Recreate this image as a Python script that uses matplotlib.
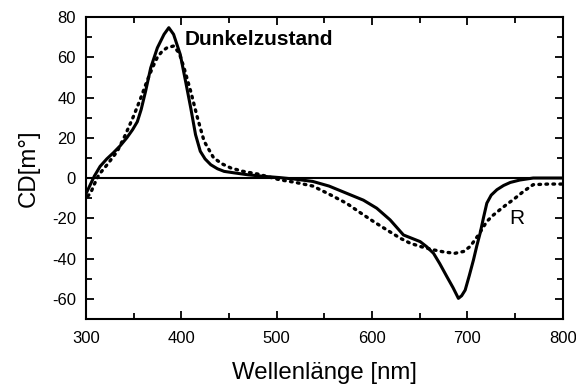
import numpy as np
import matplotlib
matplotlib.use('Agg')
import matplotlib.pyplot as plt
from matplotlib.ticker import MultipleLocator

plt.rcParams['font.family'] = ['Liberation Sans', 'DejaVu Sans']
plt.rcParams['axes.unicode_minus'] = False

# Dunkelzustand (durchgezogen)
wl_dunkel = [300, 303, 309, 315, 322, 329, 336, 343, 349, 354, 358, 362.6, 368, 375, 382,
             387, 392, 399, 404.6, 410, 415, 420, 425, 431, 438, 445, 455, 470, 485, 503.6,
             520, 538, 555, 573.5, 591, 605, 619, 633, 642, 650.5, 657, 664.5, 671, 678.5,
             685, 690.6, 694, 697.7, 702, 706.4, 710, 713.4, 717, 720.4, 725, 731, 738, 745,
             755, 769, 785, 800]
cd_dunkel = [-8, -5, 1, 5.8, 9.5, 12.6, 16, 20, 24, 28, 34, 43, 54.7, 64.7, 71.4,
             74.7, 71.4, 61.4, 48, 34.8, 21.6, 13.3, 9.5, 6.6, 4.6, 3.3, 2.6, 1.6, 0.9, 0.2,
             -0.6, -1.7, -4, -7.6, -11, -15, -20.8, -28.3, -30, -31.6, -34, -37.4, -42.5, -49,
             -54.5, -59.8, -58.5, -55.7, -48.5, -40.7, -33.5, -27.4, -19.5, -12.5, -8.5, -5.8, -3.7, -2.2,
             -1, 0, 0, 0]

# R (gepunktet)
wl_r = [302, 305, 309, 313.6, 323, 333, 341, 350, 357, 364, 370, 375, 380, 385, 392,
        398, 403, 410, 417, 424, 434, 443, 452, 465, 480, 503.6, 520, 538, 555, 573.5,
        587, 601.5, 619, 630, 640, 652, 664.5, 676, 687, 696, 703, 711.6, 720.4, 727,
        734, 741, 748, 759, 769, 785, 800]
cd_r = [-9, -7.5, -3, 1.6, 7, 13.3, 21, 30.7, 39, 48, 55, 60, 63, 64.7, 65.6,
        62, 54.7, 43, 30, 18.3, 10, 7, 5, 3.3, 2, -0.9, -2.2, -4, -8, -12.6,
        -17, -21.6, -26.8, -30, -32.4, -34.2, -35.7, -36.8, -37.4, -36.5, -34, -28.3, -21.6, -18.5,
        -15.8, -13.2, -10.8, -6.6, -3.3, -3, -3]

fig = plt.figure(figsize=(5.76, 3.87), dpi=100)
ax = fig.add_axes([0.149, 0.176, 0.828, 0.780])

ax.axhline(0, color='black', lw=1.5, zorder=1)
ax.plot(wl_dunkel, cd_dunkel, color='black', lw=2.2, solid_joinstyle='round')
ax.plot(wl_r, cd_r, color='black', lw=2.4, linestyle=(0, (0.5, 1.6)), dash_capstyle='round')

ax.set_xlim(300, 800)
ax.set_ylim(-70, 80)
ax.xaxis.set_major_locator(MultipleLocator(100))
ax.xaxis.set_minor_locator(MultipleLocator(50))
ax.yaxis.set_major_locator(MultipleLocator(20))
ax.yaxis.set_minor_locator(MultipleLocator(10))
ax.tick_params(which='both', direction='in', top=True, right=True, labelsize=12, width=1.3)
ax.tick_params(which='major', length=6)
ax.tick_params(which='minor', length=4)
ax.tick_params(axis='x', which='major', pad=9)
ax.tick_params(axis='y', which='major', pad=7)
for s in ax.spines.values():
    s.set_linewidth(1.5)

ax.set_xlabel('Wellenlänge [nm]', fontsize=17.3, labelpad=11)
ax.set_ylabel('CD[m°]', fontsize=17.3, labelpad=9)

ax.text(404, 69, 'Dunkelzustand', fontsize=15, fontweight='bold', va='center')
ax.text(744, -20, 'R', fontsize=15, va='center')

fig.savefig('out.png', dpi=100)
